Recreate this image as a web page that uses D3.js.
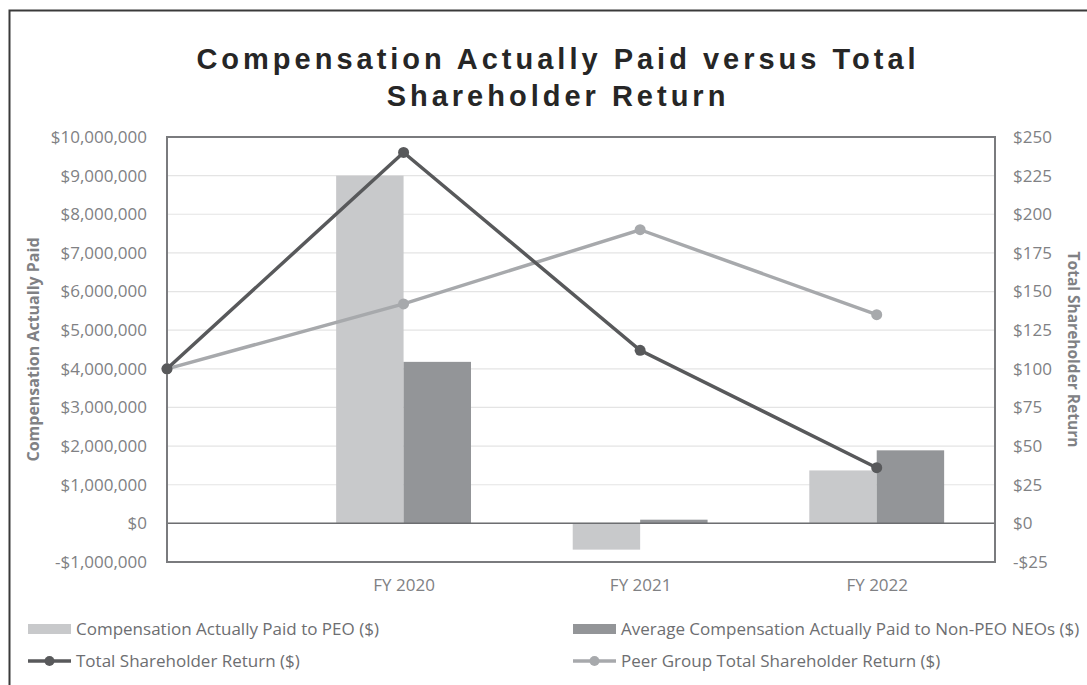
<!DOCTYPE html>
<html>
<head>
<meta charset="utf-8">
<script src="https://cdn.jsdelivr.net/npm/d3@7"></script>
<style>
  body { margin: 0; background: #fff; }
  svg { display: block; font-family: "Open Sans", sans-serif; }
</style>
</head>
<body>
<div id="chart"></div>
<script>
// Chart data
const categories = ["", "FY 2020", "FY 2021", "FY 2022"];
const peoPaid = [null, 9000000, -680000, 1370000];
const neoPaid = [null, 4180000, 95000, 1890000];
const tsr = [100, 240, 112, 36];
const peerTsr = [100, 142, 190, 135];
const leftTicks = [-1000000, 0, 1000000, 2000000, 3000000, 4000000, 5000000, 6000000, 7000000, 8000000, 9000000, 10000000];
const rightTicks = [-25, 0, 25, 50, 75, 100, 125, 150, 175, 200, 225, 250];

const W = 1087, H = 685;
const margin = {top: 137, right: 92, bottom: 123, left: 167};
const width = W - margin.left - margin.right;
const height = H - margin.top - margin.bottom;

const colPeo = "#c8c9cb", colNeo = "#939598", colTsr = "#58595b", colPeer = "#a7a9ac";
const textGray = "#808184";
const font = "'Open Sans', sans-serif";

const svg = d3.select("#chart").append("svg")
  .attr("width", W).attr("height", H);

// outer frame (runs off the right/bottom edge)
svg.append("rect")
  .attr("x", 9.5).attr("y", 10.5)
  .attr("width", W + 20).attr("height", H + 20)
  .attr("fill", "none").attr("stroke", "#3a3a3a").attr("stroke-width", 2);

// title
const title = svg.append("text")
  .attr("text-anchor", "middle")
  .style("font-family", "'Liberation Sans', Arial, sans-serif")
  .style("font-weight", "bold")
  .style("font-size", "29px")
  .style("letter-spacing", "4px")
  .attr("fill", "#262626");
title.append("tspan").attr("x", 558).attr("y", 69).text("Compensation Actually Paid versus Total");
title.append("tspan").attr("x", 558).attr("y", 106).text("Shareholder Return");

const g = svg.append("g").attr("transform", `translate(${margin.left},${margin.top})`);

// scales
const step = width / 3.5;
const x = d3.scalePoint().domain(categories).range([0, step * 3]);
const yL = d3.scaleLinear().domain([-1000000, 10000000]).range([height, 0]);
const yR = d3.scaleLinear().domain([-25, 250]).range([height, 0]);
const barW = step * 0.285;

// gridlines
g.append("g")
  .selectAll("line")
  .data(leftTicks)
  .join("line")
  .attr("x1", 0).attr("x2", width)
  .attr("y1", d => yL(d)).attr("y2", d => yL(d))
  .attr("stroke", "#e4e4e4").attr("stroke-width", 1.2);

// axes
const fmtL = d => (d < 0 ? "-$" : "$") + d3.format(",")(Math.abs(d));
const fmtR = d => (d < 0 ? "-$" : "$") + Math.abs(d);

const axL = g.append("g")
  .call(d3.axisLeft(yL).tickValues(leftTicks).tickFormat(fmtL).tickSize(0).tickPadding(20));
axL.select(".domain").remove();
axL.selectAll("text").attr("fill", textGray).style("font-size", "17px").style("font-family", font);

const axR = g.append("g").attr("transform", `translate(${width},0)`)
  .call(d3.axisRight(yR).tickValues(rightTicks).tickFormat(fmtR).tickSize(0).tickPadding(18));
axR.select(".domain").remove();
axR.selectAll("text").attr("fill", textGray).style("font-size", "17px").style("font-family", font);

const axX = g.append("g").attr("transform", `translate(0,${height})`)
  .call(d3.axisBottom(x).tickSize(0).tickPadding(17));
axX.select(".domain").remove();
axX.selectAll("text").attr("fill", textGray).style("font-size", "17px").style("font-family", font);

// bars
const barData = categories.map((c, i) => ({c, peo: peoPaid[i], neo: neoPaid[i]})).filter(d => d.peo !== null);
g.selectAll(".peo").data(barData).join("rect")
  .attr("class", "peo")
  .attr("x", d => x(d.c) - barW)
  .attr("width", barW)
  .attr("y", d => yL(Math.max(0, d.peo)))
  .attr("height", d => Math.abs(yL(d.peo) - yL(0)))
  .attr("fill", colPeo);
g.selectAll(".neo").data(barData).join("rect")
  .attr("class", "neo")
  .attr("x", d => x(d.c))
  .attr("width", barW)
  .attr("y", d => yL(Math.max(0, d.neo)))
  .attr("height", d => Math.abs(yL(d.neo) - yL(0)))
  .attr("fill", colNeo);

// zero line
g.append("line")
  .attr("x1", 0).attr("x2", width)
  .attr("y1", yL(0)).attr("y2", yL(0))
  .attr("stroke", "#6d6e71").attr("stroke-width", 1.5);

// plot border
g.append("rect")
  .attr("x", 0).attr("y", 0).attr("width", width).attr("height", height)
  .attr("fill", "none").attr("stroke", "#7a7b7e").attr("stroke-width", 2);

// lines
const line = d3.line().x((d, i) => x(categories[i])).y(d => yR(d));
function drawSeries(vals, col) {
  g.append("path").datum(vals)
    .attr("d", line).attr("fill", "none")
    .attr("stroke", col).attr("stroke-width", 3.5);
  g.append("g").selectAll("circle").data(vals).join("circle")
    .attr("cx", (d, i) => x(categories[i]))
    .attr("cy", d => yR(d))
    .attr("r", 5.5).attr("fill", col);
}
drawSeries(peerTsr, colPeer);
drawSeries(tsr, colTsr);

// axis titles
svg.append("text")
  .attr("transform", `translate(39,${margin.top + height / 2}) rotate(-90)`)
  .attr("text-anchor", "middle")
  .style("font-size", "16px").style("font-weight", "bold")
  .attr("fill", textGray)
  .text("Compensation Actually Paid");
svg.append("text")
  .attr("transform", `translate(1068,${margin.top + height / 2}) rotate(90)`)
  .attr("text-anchor", "middle")
  .style("font-size", "15.5px").style("font-weight", "bold")
  .attr("fill", textGray)
  .text("Total Shareholder Return");

// legend
const legendItems = [
  {label: "Compensation Actually Paid to PEO ($)", type: "bar", color: colPeo, x: 28, y: 629},
  {label: "Average Compensation Actually Paid to Non-PEO NEOs ($)", type: "bar", color: colNeo, x: 573, y: 629},
  {label: "Total Shareholder Return ($)", type: "line", color: colTsr, x: 28, y: 661},
  {label: "Peer Group Total Shareholder Return ($)", type: "line", color: colPeer, x: 573, y: 661}
];
const leg = svg.append("g");
legendItems.forEach(it => {
  const li = leg.append("g").attr("transform", `translate(${it.x},${it.y})`);
  if (it.type === "bar") {
    li.append("rect").attr("x", 0).attr("y", -5).attr("width", 43).attr("height", 10).attr("fill", it.color);
  } else {
    li.append("line").attr("x1", 0).attr("x2", 43).attr("y1", 0).attr("y2", 0)
      .attr("stroke", it.color).attr("stroke-width", 3.5);
    li.append("circle").attr("cx", 21.5).attr("cy", 0).attr("r", 5).attr("fill", it.color);
  }
  li.append("text").attr("x", 48).attr("y", 0).attr("dy", "0.35em")
    .style("font-size", "17px").attr("fill", "#6d6e71")
    .text(it.label);
});
</script>
</body>
</html>
